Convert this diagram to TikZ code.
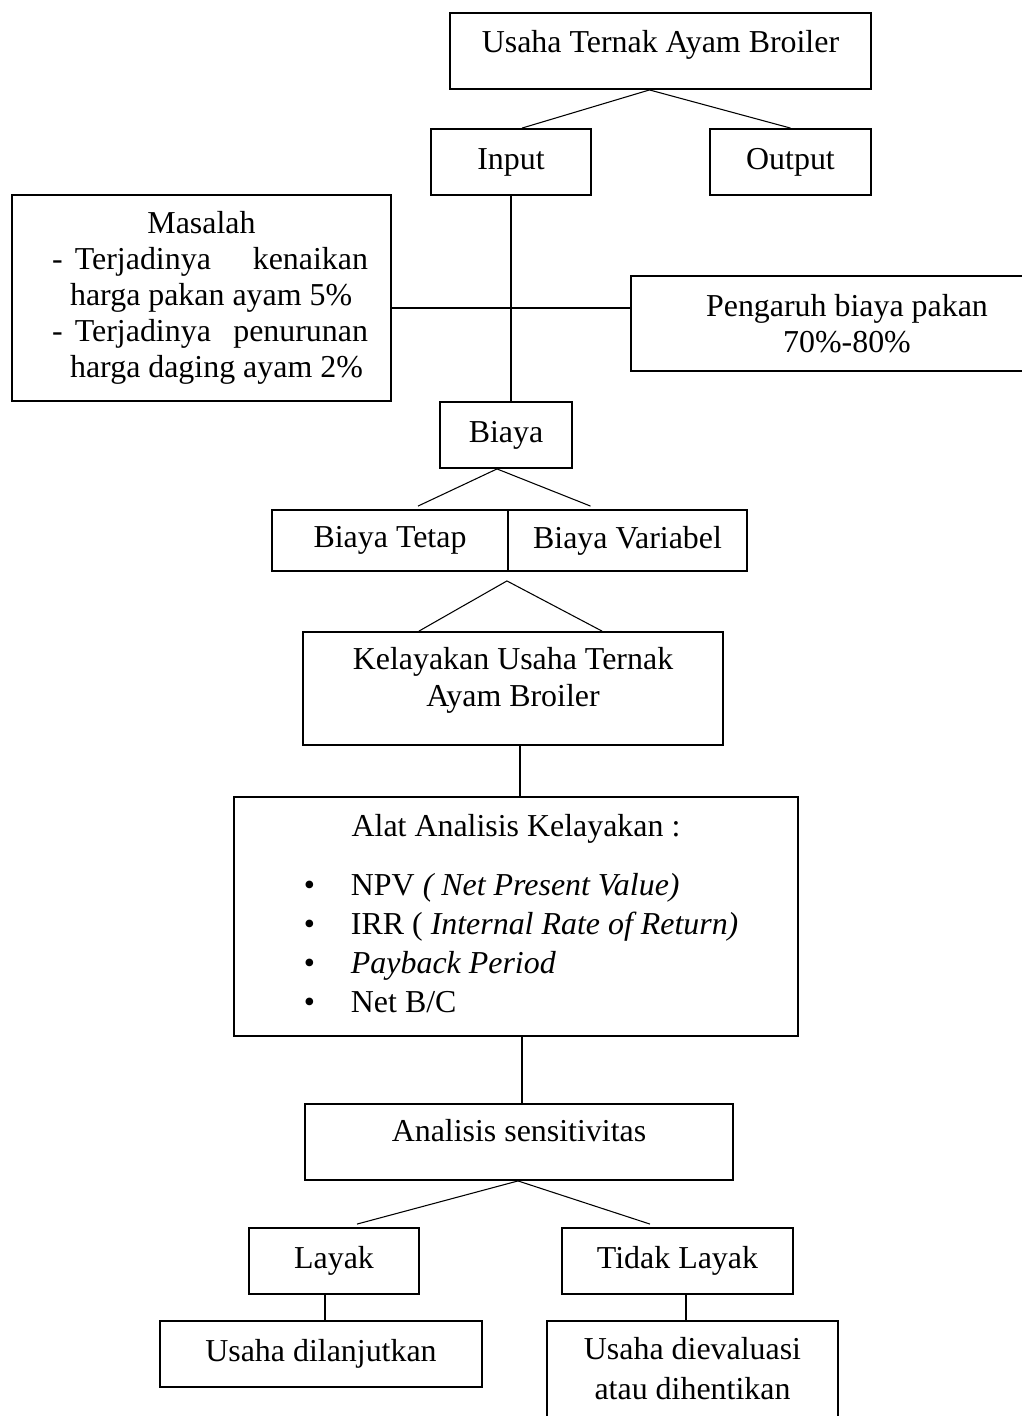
\documentclass[tikz,border=0pt]{standalone}
\usepackage{fontspec}
\setmainfont{Liberation Serif}
\usetikzlibrary{calc}
\newcommand{\pxu}{0.376pt}
\newcommand{\itembullet}{\makebox[17.7pt][l]{\textbullet}}

\begin{document}
\begin{tikzpicture}[x=0.376pt, y=-0.376pt,
    box/.style={draw, line width=0.7pt, inner sep=0pt, font=\fontsize{12}{13.8}\selectfont},
    boxsize/.style 2 args={minimum width=#1*\pxu, minimum height=#2*\pxu},
    link/.style={line width=0.4pt}]

    \useasboundingbox (0,0) rectangle (1022,1416);

    % Draw the boxes at the top
    \node[box, boxsize={421}{76}, text depth=7.3pt] (usaha) at (660.5,51) {Usaha Ternak Ayam Broiler};
    \node[box, boxsize={160}{66}] (input) at (511,162) {Input};
    \node[box, boxsize={161}{66}] (output) at (790.5,162) {Output};

    % Draw the side boxes
    \node[box, boxsize={379}{206}] (masalah) at (201.5,298) {\parbox{125.2pt}{\baselineskip=13.5pt
        {\centering Masalah\par}
        \leftskip=6.4pt
        \hangindent=6.8pt \hangafter=1 \makebox[8.6pt][l]{-}Terjadinya\hfill kenaikan\\ harga pakan ayam 5\%\par
        \hangindent=6.8pt \hangafter=1 \makebox[8.6pt][l]{-}Terjadinya\hfill penurunan\\ harga daging ayam 2\%\par}};
    \node[box, boxsize={432}{95}] (pengaruh) at (847,323.5) {\parbox{150pt}{\centering Pengaruh biaya pakan\\70\%-80\%}};

    % Draw the cost boxes
    \node[box, boxsize={132}{66}] (biaya) at (506,435) {Biaya};
    \node[box, boxsize={236}{61}] (tetap) at (390,540.5) {Biaya Tetap};
    \node[box, boxsize={239}{61}] (variabel) at (627.5,540.5) {Biaya Variabel};

    % Draw the analysis boxes
    \node[box, boxsize={420}{113}] (kelayakan) at (513,688.5) {\parbox{150pt}{\centering Kelayakan Usaha Ternak\\Ayam Broiler\par\vspace{6.3pt}}};
    \node[box, boxsize={564}{239}] (alat) at (516,916.5) {\parbox{177.5pt}{
        {\centering Alat Analisis Kelayakan :\par}
        \vspace{7.5pt}\baselineskip=14.7pt \leftskip=9pt
        \itembullet NPV \textit{( Net Present Value)}\par
        \itembullet IRR ( \textit{Internal Rate of Return)}\par
        \itembullet \textit{Payback Period}\par
        \itembullet Net B/C\par\vspace{2.2pt}}};
    \node[box, boxsize={428}{76}, text depth=8.9pt] (analisis) at (519,1142) {Analisis sensitivitas};

    % Draw the result boxes
    \node[box, boxsize={170}{66}] (layak) at (334,1261) {Layak};
    \node[box, boxsize={231}{66}] (tidak) at (677.5,1261) {Tidak Layak};
    \node[box, boxsize={322}{66}] (lanjut) at (321,1354) {Usaha dilanjutkan};
    \node[box, boxsize={291}{109}] (evaluasi) at (692.5,1375.5) {\parbox{105pt}{\baselineskip=15pt\centering Usaha dievaluasi\\atau dihentikan\par\vspace{5.3pt}}};

    % Define the points where the lines meet
    \coordinate (utop) at ($(usaha.south)+(-11,0)$);
    \coordinate (cross) at ($(masalah.east)+(0,10)$);
    \coordinate (btop) at ($(biaya.south)+(-9,0)$);
    \coordinate (kapex) at ($(tetap.south east)+(-2,9)$);
    \coordinate (kdown) at ($(kelayakan.south)+(7,0)$);
    \coordinate (adown) at ($(alat.south)+(6,0)$);
    \coordinate (stop) at ($(analisis.south)+(-1,0)$);
    \coordinate (ldown) at ($(layak.south)+(-9,0)$);
    \coordinate (tdown) at ($(tidak.south)+(8.5,0)$);

    % Draw the lines
    \draw[link] ($(input.north)+(11,0)$) -- (utop) -- (output.north);
    \draw[link] (input.south) -- (input.south |- biaya.north);
    \draw[link] (cross) -- (cross -| pengaruh.west);
    \draw[link] ($(tetap.north)+(28,-3)$) -- (btop) -- ($(variabel.north)+(-37,-3)$);
    \draw[link] ($(kelayakan.north)+(-94,0)$) -- (kapex) -- ($(kelayakan.north)+(89,0)$);
    \draw[link] (kdown) -- (kdown |- alat.north);
    \draw[link] (adown) -- (adown |- analisis.north);
    \draw[link] ($(layak.north)+(23,-3)$) -- (stop) -- ($(tidak.north)+(-27.5,-3)$);
    \draw[link] (ldown) -- (ldown |- lanjut.north);
    \draw[link] (tdown) -- (tdown |- evaluasi.north);

\end{tikzpicture}
\end{document}
